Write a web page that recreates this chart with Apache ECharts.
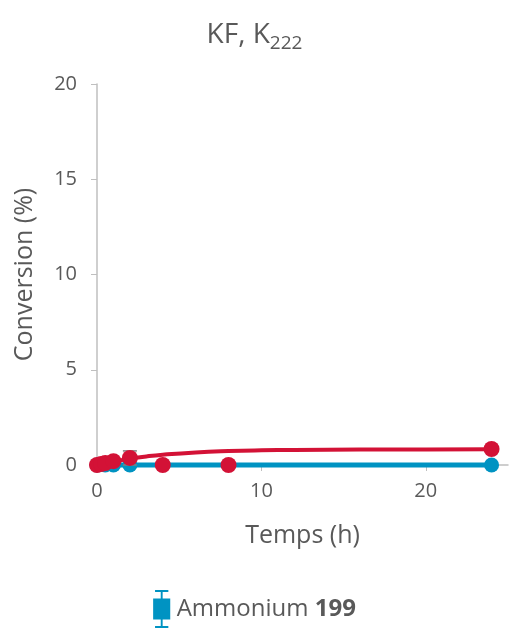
<!DOCTYPE html>
<html>
<head>
<meta charset="utf-8">
<script src="https://cdn.jsdelivr.net/npm/echarts@6/dist/echarts.min.js"></script>
<style>
  html, body { margin: 0; padding: 0; background: #fff; }
  #main { width: 509px; height: 630px; }
</style>
</head>
<body>
<div id="main"></div>
<script>
// données
var ammoniumT = [0, 0.5, 1, 2, 24];
var ammoniumY = [0, 0, 0, 0, 0];

var kfT = [0, 0.25, 0.5, 1, 2, 4, 8, 24];
var kfY = [0, 0.05, 0.1, 0.2, 0.37, 0, 0, 0.84];
var kfErr = [0, 0, 0, 0, 0.37, 0, 0, 0];   // seule la barre à 2 h est visible

// courbe d'ajustement
var fitT = [0, 0.5, 1, 2, 3, 4, 6, 8, 10, 12, 16, 20, 24];
var fitY = [0, 0.1, 0.18, 0.33, 0.45, 0.54, 0.66, 0.73, 0.77, 0.79, 0.81, 0.82, 0.83];

var xTicks = [0, 10, 20];
var yTicks = [0, 5, 10, 15, 20];

var ptsBlue = ammoniumT.map(function (t, i) { return [t, ammoniumY[i]]; });
var ptsRed = kfT.map(function (t, i) { return [t, kfY[i]]; });
var ptsFit = fitT.map(function (t, i) { return [t, fitY[i]]; });
var errData = kfT.map(function (t, i) { return [t, kfY[i] - kfErr[i], kfY[i] + kfErr[i]]; })
  .filter(function (d, i) { return kfErr[i] > 0; });

var font = 'Open Sans';
var textColor = '#595959';
var axisColor = '#bfbfbf';

var myChart = echarts.init(document.getElementById('main'));
var option = {
  backgroundColor: '#fff',
  animation: false,
  textStyle: { fontFamily: font },
  title: {
    text: 'KF, K{sub|222}',
    left: 'center',
    top: 13,
    textStyle: {
      fontFamily: font,
      fontSize: 28,
      fontWeight: 'normal',
      color: textColor,
      rich: {
        sub: { fontSize: 19, color: textColor, fontFamily: font, verticalAlign: 'bottom', padding: [16, 0, 0, 0] }
      }
    }
  },
  grid: { left: 97, right: 1, top: 84, bottom: 165 },
  legend: {
    bottom: -3,
    left: 'center',
    data: ['Ammonium 199'],
    itemWidth: 20,
    itemHeight: 38,
    itemGap: 8,
    icon: 'path://M3,0H17V2H11V9H19V31H11V38H17V40H3V38H9V31H1V9H9V2H3Z',
    formatter: function () { return 'Ammonium {b|199}'; },
    textStyle: {
      fontSize: 24,
      color: textColor,
      fontFamily: font,
      rich: { b: { fontSize: 24, fontWeight: 'bold', color: textColor, fontFamily: font } }
    }
  },
  xAxis: {
    type: 'value',
    min: 0,
    max: 25,
    interval: 10,
    name: 'Temps (h)',
    nameLocation: 'middle',
    nameGap: 58,
    nameTextStyle: { fontSize: 25, color: textColor, fontFamily: font },
    axisLine: { show: true, lineStyle: { color: axisColor, width: 1.5 } },
    axisTick: { show: true, length: 6, lineStyle: { color: axisColor }, customValues: xTicks },
    axisLabel: { fontSize: 20, color: textColor, margin: 16, customValues: xTicks },
    splitLine: { show: false }
  },
  yAxis: {
    type: 'value',
    min: 0,
    max: 20,
    interval: 5,
    name: 'Conversion (%)',
    nameLocation: 'middle',
    nameGap: 60,
    nameTextStyle: { fontSize: 25, color: textColor, fontFamily: font },
    axisLine: { show: true, lineStyle: { color: axisColor, width: 1.5 } },
    axisTick: { show: true, length: 6, lineStyle: { color: axisColor } },
    axisLabel: { fontSize: 20, color: textColor, margin: 20 },
    splitLine: { show: false }
  },
  series: [
    {
      name: 'Ammonium 199',
      type: 'line',
      data: ptsBlue,
      color: '#0093c2',
      symbol: 'circle',
      symbolSize: 15,
      lineStyle: { width: 5, color: '#0093c2' },
      itemStyle: { color: '#0093c2' },
      clip: false,
      z: 2
    },
    {
      name: 'err',
      type: 'custom',
      data: errData,
      z: 3,
      renderItem: function (params, api) {
        var lo = api.coord([api.value(0), api.value(1)]);
        var hi = api.coord([api.value(0), api.value(2)]);
        var w = 7;
        var st = { stroke: '#7f7f7f', lineWidth: 1.5 };
        return {
          type: 'group',
          children: [
            { type: 'line', shape: { x1: hi[0], y1: hi[1], x2: lo[0], y2: lo[1] }, style: st },
            { type: 'line', shape: { x1: hi[0] - w, y1: hi[1], x2: hi[0] + w, y2: hi[1] }, style: st },
            { type: 'line', shape: { x1: lo[0] - w, y1: lo[1], x2: lo[0] + w, y2: lo[1] }, style: st }
          ]
        };
      }
    },
    {
      name: 'fit',
      type: 'line',
      data: ptsFit,
      smooth: true,
      showSymbol: false,
      lineStyle: { width: 4, color: '#d31236' },
      clip: false,
      z: 4
    },
    {
      name: 'KF',
      type: 'scatter',
      data: ptsRed,
      symbolSize: 16,
      itemStyle: { color: '#d31236', opacity: 1 },
      clip: false,
      z: 5
    }
  ]
};
myChart.setOption(option);
</script>
</body>
</html>
